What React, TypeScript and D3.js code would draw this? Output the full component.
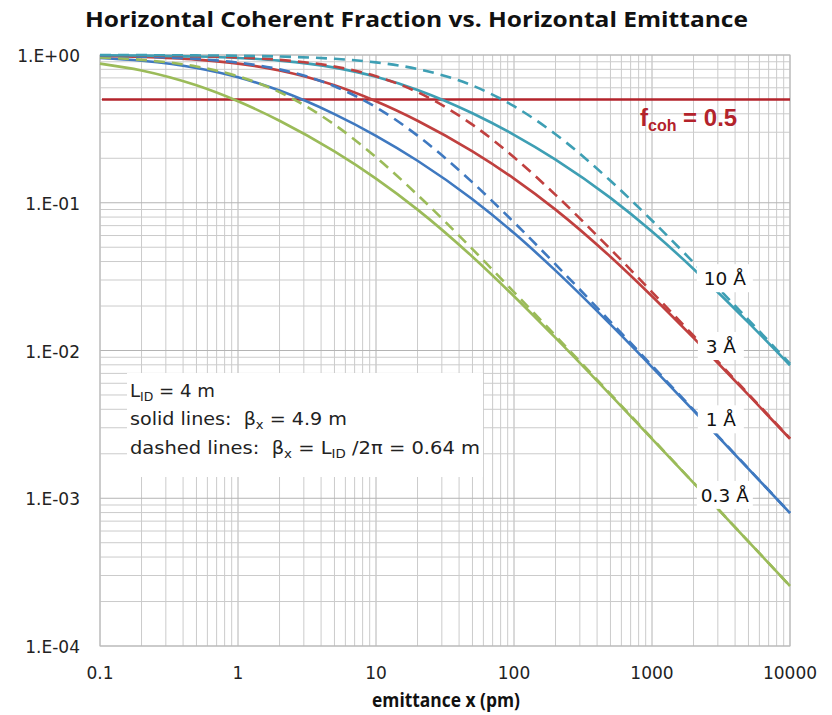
import React from 'react';
import * as d3 from 'd3';

// emittance x (pm)
const emittance = [0.1, 0.2, 0.5, 1, 2, 5, 10, 20, 50, 100, 200, 500, 1000, 2000, 3000, 5000, 10000];

// coherent fraction, solid lines (beta_x = 4.9 m)
const solid03 = [0.8742, 0.7857, 0.6234, 0.4866, 0.3591, 0.2225, 0.1457, 0.08984, 0.04308, 0.02328, 0.01216, 0.005001, 0.002525, 0.0012687, 0.0008472, 0.000509, 0.0002547];
const solid1 = [0.9541, 0.9139, 0.8177, 0.7073, 0.5745, 0.3981, 0.2839, 0.1925, 0.1056, 0.06236, 0.03473, 0.01501, 0.007723, 0.003919, 0.002626, 0.0015822, 0.0007935];
const solid3 = [0.985, 0.9706, 0.9309, 0.8742, 0.7857, 0.6234, 0.4866, 0.3591, 0.2225, 0.1457, 0.08984, 0.04308, 0.02328, 0.01216, 0.00823, 0.005001, 0.002525];
const solid10 = [0.9953, 0.9906, 0.9769, 0.9554, 0.9161, 0.8217, 0.7126, 0.5804, 0.4034, 0.2883, 0.196, 0.1079, 0.06387, 0.03565, 0.0248, 0.01544, 0.007949];

// coherent fraction, dashed lines (beta_x = L_ID / 2pi)
const dashed03 = [0.9623, 0.9273, 0.8361, 0.7183, 0.5604, 0.3377, 0.2032, 0.1131, 0.04853, 0.02487, 0.01259, 0.005074, 0.002544, 0.001273, 0.0008493, 0.0005097, 0.0002549];
const dashed1 = [0.9876, 0.9755, 0.9409, 0.8884, 0.7992, 0.6142, 0.4432, 0.2847, 0.1373, 0.07373, 0.03828, 0.01567, 0.007897, 0.003964, 0.002646, 0.0015895, 0.0007954];
const dashed3 = [0.9961, 0.9922, 0.9808, 0.9623, 0.9273, 0.8361, 0.7183, 0.5604, 0.3377, 0.2032, 0.1131, 0.04853, 0.02487, 0.01259, 0.008428, 0.005074, 0.002544];
const dashed10 = [0.9988, 0.9976, 0.9939, 0.988, 0.9762, 0.9425, 0.8913, 0.8039, 0.6212, 0.4505, 0.2908, 0.1409, 0.07579, 0.03939, 0.02661, 0.01614, 0.008133];

const wavelengthLabels = ['0.3 Å', '1 Å', '3 Å', '10 Å'];
const labelEmittance = 3000;
const fcohLevel = 0.5;

const xTickValues = [0.1, 1, 10, 100, 1000, 10000];
const xTickLabels = ['0.1', '1', '10', '100', '1000', '10000'];
const yTickValues = [1e-4, 1e-3, 1e-2, 1e-1, 1];
const yTickLabels = ['1.E-04', '1.E-03', '1.E-02', '1.E-01', '1.E+00'];

const colors = ['#9bbb59', '#3f79c0', '#c0403f', '#3e9fb4'];

const series = [
  { label: wavelengthLabels[0], color: colors[0], solid: solid03, dashed: dashed03 },
  { label: wavelengthLabels[1], color: colors[1], solid: solid1, dashed: dashed1 },
  { label: wavelengthLabels[2], color: colors[2], solid: solid3, dashed: dashed3 },
  { label: wavelengthLabels[3], color: colors[3], solid: solid10, dashed: dashed10 },
];

const W = 832;
const H = 715;
const L = 100, R = 790, T = 55, B = 646;

export default function App() {
  const x = d3.scaleLog().domain([0.1, 10000]).range([L, R]);
  const y = d3.scaleLog().domain([1e-4, 1]).range([B, T]);
  const line = d3
    .line<number>()
    .x((_, i) => x(emittance[i]))
    .y((d) => y(d))
    .curve(d3.curveMonotoneX);

  const xGrid = x.ticks();
  const yGrid = y.ticks();
  const isMajor = (v: number) => Math.abs(Math.log10(v) - Math.round(Math.log10(v))) < 1e-6;
  const font = "'Open Sans', sans-serif";
  const dv = "'DejaVu Sans', Verdana, sans-serif";
  const li = emittance.indexOf(labelEmittance);

  return (
    <svg width={W} height={H} style={{ position: 'absolute', left: 0, top: 0, background: '#fff' }}>
      <rect x={0} y={0} width={W} height={H} fill="#fff" />
      <text x={85} y={27} fontFamily={font} fontWeight={700} fontSize={21.5} fill="#111" textLength={663} lengthAdjust="spacingAndGlyphs">
        Horizontal Coherent Fraction vs. Horizontal Emittance
      </text>

      {/* grid */}
      <g>
        {xGrid.map((v, i) => (
          <line key={'xg' + i} x1={x(v)} x2={x(v)} y1={T} y2={B} stroke={isMajor(v) ? '#b4b4b4' : '#cbcbcb'} strokeWidth={1} />
        ))}
        {yGrid.map((v, i) => (
          <line key={'yg' + i} x1={L} x2={R} y1={y(v)} y2={y(v)} stroke={isMajor(v) ? '#b4b4b4' : '#cbcbcb'} strokeWidth={1} />
        ))}
        <rect x={L} y={T} width={R - L} height={B - T} fill="none" stroke="#bdbdbd" strokeWidth={1} />
      </g>

      {/* axis labels */}
      {yTickValues.map((v, i) => (
        <text key={'yt' + i} x={80} y={y(v) + 7} textAnchor="end" fontFamily={dv} fontSize={17} fill="#222">
          {yTickLabels[i]}
        </text>
      ))}
      {xTickValues.map((v, i) => (
        <text key={'xt' + i} x={x(v)} y={679} textAnchor="middle" fontFamily={dv} fontSize={17} fill="#222">
          {xTickLabels[i]}
        </text>
      ))}
      <text x={372} y={707} fontFamily={font} fontWeight={700} fontSize={19} fill="#111" textLength={148} lengthAdjust="spacingAndGlyphs">
        emittance x (pm)
      </text>

      {/* f_coh = 0.5 */}
      <line x1={L + 2} x2={R} y1={y(fcohLevel)} y2={y(fcohLevel)} stroke="#b3232b" strokeWidth={2.5} />
      <text x={640} y={126} fontFamily="'Liberation Sans', Arial, sans-serif" fontWeight={700} fontSize={24} fill="#b3232b" xmlSpace="preserve">
        f<tspan fontSize={16} dy={5}>coh</tspan>
        <tspan dy={-5}> = 0.5</tspan>
      </text>

      {/* curves */}
      <g fill="none" strokeLinecap="butt">
        {series.map((s, i) => (
          <path key={'s' + i} d={line(s.solid) || ''} stroke={s.color} strokeWidth={2.6} />
        ))}
        {series.map((s, i) => (
          <path key={'d' + i} d={line(s.dashed) || ''} stroke={s.color} strokeWidth={2.6} strokeDasharray="11,7" />
        ))}
      </g>

      {/* curve labels */}
      {series.map((s, i) => {
        const long = s.label.length > 3;
        const cx = x(labelEmittance) + (long ? 7 : 3);
        const cy = y(s.solid[li]) - (long ? 14 : 17);
        const w = long ? 56 : 46;
        return (
          <g key={'l' + i}>
            <rect x={cx - w / 2} y={cy - 14} width={w} height={28} fill="#fff" />
            <text x={cx} y={cy + 7} textAnchor="middle" fontFamily={dv} fontSize={18.5} fill="#111">
              {s.label}
            </text>
          </g>
        );
      })}

      {/* annotation box */}
      <rect x={127} y={373} width={356} height={104} fill="#fff" />
      <g fontFamily={dv} fontSize={17.5} fill="#222">
        <text x={130} y={397} xmlSpace="preserve" textLength={85} lengthAdjust="spacingAndGlyphs">
          L<tspan fontSize={12} dy={4}>ID</tspan>
          <tspan dy={-4}> = 4 m</tspan>
        </text>
        <text x={130} y={425} xmlSpace="preserve" textLength={217} lengthAdjust="spacingAndGlyphs">
          {'solid lines:  β'}<tspan fontSize={12} dy={4}>x</tspan>
          <tspan dy={-4}> = 4.9 m</tspan>
        </text>
        <text x={130} y={454} xmlSpace="preserve" textLength={350} lengthAdjust="spacingAndGlyphs">
          {'dashed lines:  β'}<tspan fontSize={12} dy={4}>x</tspan>
          <tspan dy={-4}> = L</tspan>
          <tspan fontSize={12} dy={4}>ID</tspan>
          <tspan dy={-4}> /2π = 0.64 m</tspan>
        </text>
      </g>
    </svg>
  );
}
